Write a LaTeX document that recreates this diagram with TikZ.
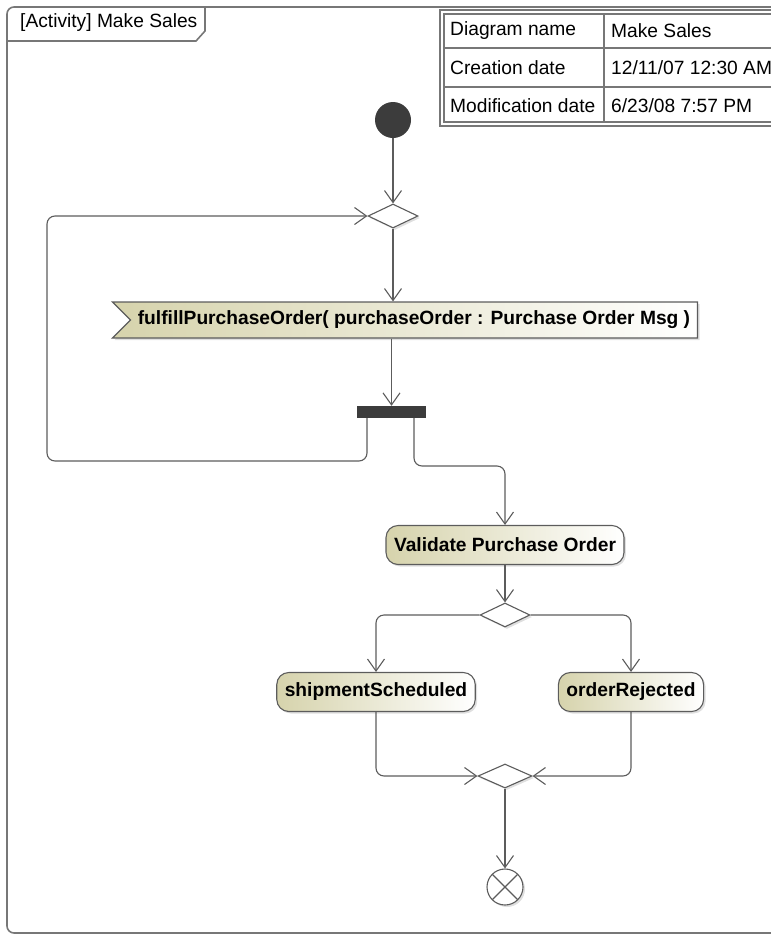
\documentclass[tikz,border=0pt]{standalone}
\usepackage{fontspec}
\setmainfont{Liberation Sans}
\usetikzlibrary{arrows.meta,positioning,shapes.geometric,shapes.symbols,shadows}
\definecolor{UmlLine}{HTML}{5C5C5C}
\definecolor{UmlFrame}{HTML}{777777}
\definecolor{UmlDark}{HTML}{3C3C3C}
\definecolor{UmlTan}{HTML}{D6D3AC}

\begin{document}
\begin{tikzpicture}[
    x=1pt,y=-1pt,
    labelfont/.style={font=\fontsize{19.2}{22}\selectfont},
    action/.style={rounded corners=12pt,draw=UmlLine,line width=1.1pt,
                   left color=UmlTan,right color=white,
                   minimum height=39pt,inner xsep=8pt,
                   font=\fontsize{19.2}{22}\selectfont\bfseries,
                   drop shadow={shadow xshift=2pt,shadow yshift=-2pt,opacity=.25}},
    decision/.style={diamond,draw=UmlLine,line width=1.1pt,fill=white,
                     minimum width=50pt,minimum height=24pt,inner sep=0pt,
                     drop shadow={shadow xshift=2pt,shadow yshift=-2pt,opacity=.25}},
    flow/.style={draw=UmlLine,line width=1.1pt,rounded corners=8pt,
                 -{Straight Barb[length=12pt,width=17pt,line width=1.1pt]}},
    tablerule/.style={draw=UmlFrame,line width=1.1pt}
  ]
    \useasboundingbox (0,0) rectangle (771,935);
    % frame and its tab
    \draw[draw=UmlFrame,line width=1.6pt,rounded corners=7pt] (7,7) rectangle (820,933);
    \draw[draw=UmlFrame,line width=1.6pt] (7,41) -- (196,41) -- (205,31) -- (205,7);
    \node[labelfont,anchor=west,inner sep=0pt] (frametitle) at (20,23) {[Activity] Make Sales};

    % info table
    \fill[white] (440,10) rectangle (820,126);
    \draw[tablerule] (440,10) rectangle (820,126);
    \draw[tablerule] (444,14) rectangle (816,122);
    \draw[tablerule,line width=2pt] (444,48) -- (816,48);
    \draw[tablerule,line width=2pt] (444,87) -- (816,87);
    \draw[tablerule,line width=2pt] (604,14) -- (604,122);
    \node[labelfont,anchor=west,inner sep=0pt] (namekey) at (450,31) {Diagram name};
    \node[labelfont,anchor=west,inner sep=0pt] (nameval) at (611,31) {Make Sales};
    \node[labelfont,anchor=west,inner sep=0pt] (createkey) at (450,68) {Creation date};
    \node[labelfont,anchor=west,inner sep=0pt] (createval) at (611,68) {12/11/07 12:30 AM};
    \node[labelfont,anchor=west,inner sep=0pt] (modkey) at (450,106) {Modification date};
    \node[labelfont,anchor=west,inner sep=0pt] (modval) at (611,106) {6/23/08 7:57 PM};

    % nodes
    \node[circle,fill=UmlDark,minimum size=36pt,inner sep=0pt] (start) at (393,120) {};
    \node[decision] (loopmerge) at (393,216) {};
    \node[signal,signal from=west,signal to=nowhere,draw=UmlLine,line width=1.1pt,
          left color=UmlTan,right color=white,minimum width=585pt,minimum height=36pt,
          inner xsep=0pt,font=\fontsize{19.2}{22}\selectfont\bfseries,
          drop shadow={shadow xshift=2pt,shadow yshift=-2pt,opacity=.25}]
          (fulfill) at (414,320) {fulfillPurchaseOrder( purchaseOrder : Purchase Order Msg )};
    \node[fill=UmlDark,minimum width=69pt,minimum height=12pt,inner sep=0pt] (fork) at (391.5,412) {};
    \node[action] (validate) at (505,545) {Validate Purchase Order};
    \node[decision] (choice) at (505,615) {};
    \node[action] (shipped) at (376,692) {shipmentScheduled};
    \node[action] (rejected) at (631,692) {orderRejected};
    \node[decision,minimum width=54pt] (join) at (505,776) {};
    \node[circle,draw=UmlLine,line width=1.1pt,fill=white,minimum size=36pt,inner sep=0pt,
          drop shadow={shadow xshift=2pt,shadow yshift=-2pt,opacity=.25},
          path picture={\draw[UmlLine,line width=1.1pt]
            (path picture bounding box.north west) -- (path picture bounding box.south east)
            (path picture bounding box.north east) -- (path picture bounding box.south west);}]
          (flowend) at (505,887) {};
    \coordinate (loopcorner) at (47,461);
    \coordinate (forkbend) at (460,466);

    % flows
    \draw[flow] (start) -- (loopmerge.north);
    \draw[flow] (loopmerge.south) -- (loopmerge.south |- fulfill.north);
    \draw[flow] (fork.north |- fulfill.south) -- (fork.north);
    \draw[flow] ([xshift=-24.5pt]fork.south) |- (loopcorner) |- (loopmerge.west);
    \draw[flow] ([xshift=22.5pt]fork.south) |- (forkbend) -| (validate.north);
    \draw[flow] (validate) -- (choice.north);
    \draw[flow] (choice.west) -| (shipped.north);
    \draw[flow] (choice.east) -| (rejected.north);
    \draw[flow] (shipped.south) |- (join.west);
    \draw[flow] (rejected.south) |- (join.east);
    \draw[flow] (join.south) -- (flowend.north);
  \end{tikzpicture}
\end{document}
